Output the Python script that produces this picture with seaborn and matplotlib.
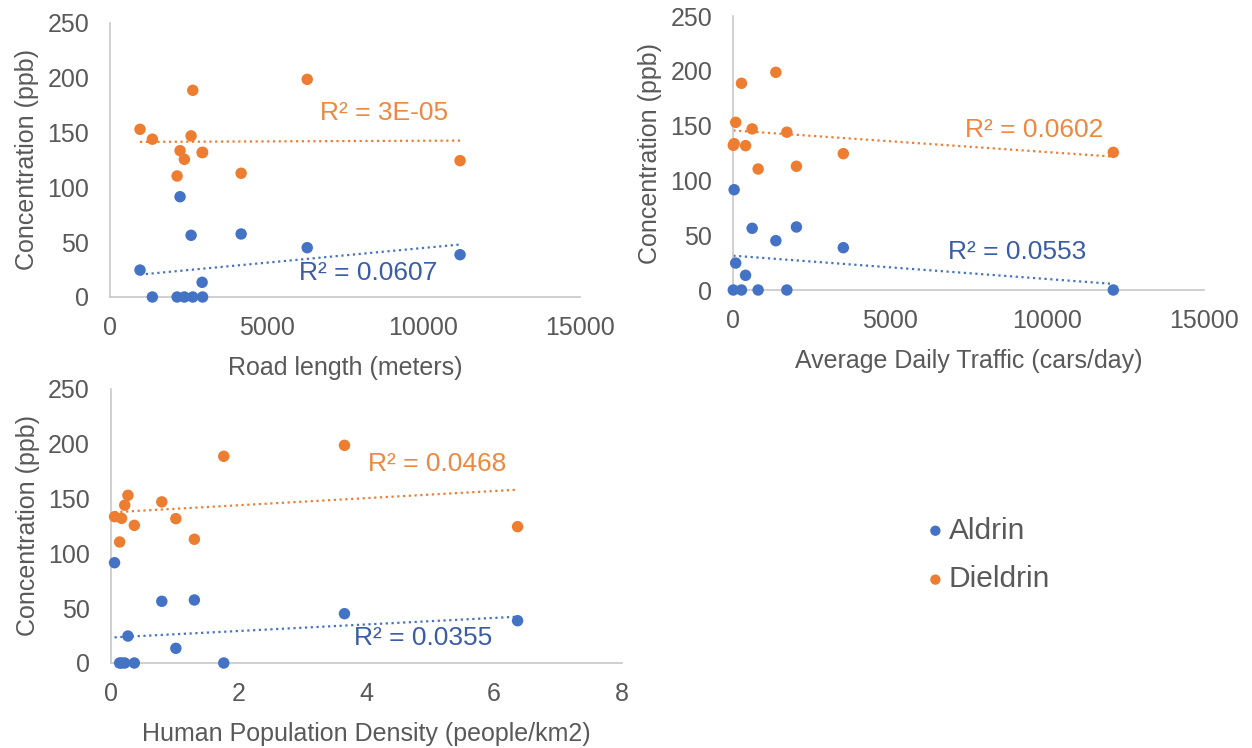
import numpy as np
import pandas as pd
import matplotlib
matplotlib.use("Agg")
import matplotlib.pyplot as plt
import seaborn as sns

# Twelve sampling sites: pesticide concentrations and site characteristics
sites = ["A", "B", "C", "D", "E", "F", "G", "H", "I", "J", "K", "L"]
aldrin = [45.0, 38.6, 0.0, 24.6, 57.5, 56.3, 13.4, 0.0, 91.5, 0.0, 0.0, 0.0]
dieldrin = [198.6, 124.4, 188.6, 153.0, 112.9, 147.0, 131.7, 110.4, 133.5, 144.0, 125.6, 132.0]
road_length = [6294, 11172, 2642, 958, 4185, 2588, 2940, 2141, 2236, 1352, 2374, 2955]
daily_traffic = [1365, 3513, 270, 86, 2020, 610, 400, 800, 36, 1715, 12112, 10]
pop_density = [3.66, 6.37, 1.77, 0.27, 1.31, 0.80, 1.02, 0.14, 0.06, 0.22, 0.37, 0.17]

series_names = ["Aldrin", "Dieldrin"]
x_titles = ["Road length (meters)", "Average Daily Traffic (cars/day)",
            "Human Population Density (people/km2)"]
x_ticks = [[0, 5000, 10000, 15000], [0, 5000, 10000, 15000], [0, 2, 4, 6, 8]]
y_ticks = [0, 50, 100, 150, 200, 250]
r2_aldrin = ["R² = 0.0607", "R² = 0.0553", "R² = 0.0355"]
r2_dieldrin = ["R² = 3E-05", "R² = 0.0602", "R² = 0.0468"]
# where each R² label sits (data coordinates: left edge, vertical centre)
r2_aldrin_pos = [(6040, 22), (6850, 35), (3.81, 22.5)]
r2_dieldrin_pos = [(6710, 168), (7390, 146), (4.03, 182)]

df = pd.DataFrame({
    "site": sites,
    "Aldrin": aldrin,
    "Dieldrin": dieldrin,
    "road": road_length,
    "traffic": daily_traffic,
    "density": pop_density,
})
x_cols = ["road", "traffic", "density"]

sns.set_theme(style="white")
plt.rcParams["font.family"] = ["Liberation Sans", "DejaVu Sans"]

BLUE = "#4472C4"
ORANGE = "#ED7D31"
BLUE_TXT = "#3B5CA6"
ORANGE_TXT = "#EE8740"
GREY_TXT = "#595959"
AXIS_GREY = "#C8C8C8"

W, H = 1252, 748
fig = plt.figure(figsize=(W / 100, H / 100), dpi=100)

# axes rectangles in pixels: left, right, y of value 0, y of value 250
rects = [(110, 580, 297, 23), (733, 1204, 290, 16), (110.7, 621.7, 663, 389)]
axes = []
for (l, r, y0, y1) in rects:
    ax = fig.add_axes([l / W, 1 - y0 / H, (r - l) / W, (y0 - y1) / H])
    axes.append(ax)

handles = None
for i, ax in enumerate(axes):
    xc = x_cols[i]
    for name, col, tcol, labels, pos in [
        ("Aldrin", BLUE, BLUE_TXT, r2_aldrin, r2_aldrin_pos),
        ("Dieldrin", ORANGE, ORANGE_TXT, r2_dieldrin, r2_dieldrin_pos),
    ]:
        sns.scatterplot(data=df, x=xc, y=name, ax=ax, color=col, s=68,
                        edgecolor="none", clip_on=False, label=name, zorder=3)
        sns.regplot(data=df, x=xc, y=name, ax=ax, scatter=False, ci=None,
                    truncate=True, color=col,
                    line_kws=dict(linestyle=(0, (1, 1.6)), lw=1.6, zorder=2))
        ax.text(pos[i][0], pos[i][1], labels[i], ha="left", va="center",
                color=tcol, fontsize=19)
    if handles is None:
        handles, lbls = ax.get_legend_handles_labels()
    ax.get_legend().remove()

    ax.set_xlim(x_ticks[i][0], x_ticks[i][-1])
    ax.set_ylim(0, 250)
    ax.set_xticks(x_ticks[i])
    ax.set_xticklabels([str(t) for t in x_ticks[i]])
    ax.set_yticks(y_ticks)
    ax.set_xlabel(x_titles[i], fontsize=18, color=GREY_TXT, labelpad=11)
    ax.set_ylabel("Concentration (ppb)", fontsize=18, color=GREY_TXT, labelpad=6)
    ax.tick_params(axis="both", length=0, labelsize=18, labelcolor=GREY_TXT)
    ax.tick_params(axis="x", pad=14)
    ax.tick_params(axis="y", pad=15)
    for side in ["top", "right"]:
        ax.spines[side].set_visible(False)
    for side in ["left", "bottom"]:
        ax.spines[side].set_color(AXIS_GREY)
        ax.spines[side].set_linewidth(1.2)
    ax.grid(False)
    ax.set_facecolor("white")

leg = fig.legend(handles, series_names, loc="center left",
                 bbox_to_anchor=(910 / W, 1 - 555 / H), frameon=False,
                 fontsize=21.5, markerscale=0.9, handletextpad=0.0,
                 handlelength=0.9, labelspacing=0.7, borderaxespad=0)
for t in leg.get_texts():
    t.set_color(GREY_TXT)

fig.savefig("out.png", dpi=100, facecolor="white")
